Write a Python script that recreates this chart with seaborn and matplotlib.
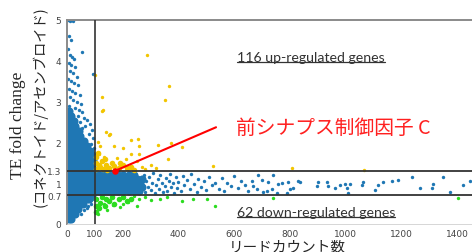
import numpy as np
import pandas as pd
import matplotlib
matplotlib.use("Agg")
import matplotlib.pyplot as plt
from matplotlib.lines import Line2D
import seaborn as sns

# dense blue core, read row by row (drawn with big markers so they merge)
core_x = [6, 14,
          6, 18, 28,
          5, 17, 30, 40,
          6, 18, 32, 46, 56,
          5, 17, 30, 44, 58, 70, 80,
          6, 18, 32, 46, 60, 74, 88,
          5, 20, 36, 52, 68, 84, 100, 116, 132, 148, 166, 184, 202, 222, 242, 260,
          8, 24, 40, 56, 72, 88, 104, 120, 138, 156, 174, 192, 212, 232, 252, 270,
          5, 20, 36, 52, 68, 84, 100, 116, 132, 148, 166, 184, 202, 222, 242, 262,
          8, 24, 40, 56, 72, 88, 104, 120, 138, 156, 174, 192, 212, 232, 252, 268,
          5, 20, 36, 52, 68, 84, 100, 116, 132, 148, 166, 184, 202, 222, 242,
          6, 20, 36, 52, 68, 84, 94,
          8, 24, 40, 56, 72, 88,
          5, 20, 36, 52, 68, 84, 94,
          8, 24, 40, 56, 72, 88,
          5, 20, 36, 52, 68, 82,
          8, 24, 40, 56, 70,
          5, 20, 36, 50, 62,
          8, 22, 36, 48,
          5, 18, 32, 42,
          8, 20, 30,
          5, 16, 24,
          6, 14,
          6]
core_y = [0.12, 0.12,
          0.24, 0.24, 0.24,
          0.36, 0.36, 0.36, 0.36,
          0.48, 0.48, 0.48, 0.48, 0.48,
          0.6, 0.6, 0.6, 0.6, 0.6, 0.6, 0.6,
          0.72, 0.72, 0.72, 0.72, 0.72, 0.72, 0.72,
          0.8, 0.8, 0.8, 0.8, 0.8, 0.8, 0.8, 0.8, 0.8, 0.8, 0.8, 0.8, 0.8, 0.8, 0.8, 0.8,
          0.9, 0.9, 0.9, 0.9, 0.9, 0.9, 0.9, 0.9, 0.9, 0.9, 0.9, 0.9, 0.9, 0.9, 0.9, 0.9,
          1.0, 1.0, 1.0, 1.0, 1.0, 1.0, 1.0, 1.0, 1.0, 1.0, 1.0, 1.0, 1.0, 1.0, 1.0, 1.0,
          1.1, 1.1, 1.1, 1.1, 1.1, 1.1, 1.1, 1.1, 1.1, 1.1, 1.1, 1.1, 1.1, 1.1, 1.1, 1.1,
          1.2, 1.2, 1.2, 1.2, 1.2, 1.2, 1.2, 1.2, 1.2, 1.2, 1.2, 1.2, 1.2, 1.2, 1.2,
          1.32, 1.32, 1.32, 1.32, 1.32, 1.32, 1.32,
          1.44, 1.44, 1.44, 1.44, 1.44, 1.44,
          1.56, 1.56, 1.56, 1.56, 1.56, 1.56, 1.56,
          1.68, 1.68, 1.68, 1.68, 1.68, 1.68,
          1.8, 1.8, 1.8, 1.8, 1.8, 1.8,
          1.92, 1.92, 1.92, 1.92, 1.92,
          2.04, 2.04, 2.04, 2.04, 2.04,
          2.16, 2.16, 2.16, 2.16,
          2.28, 2.28, 2.28, 2.28,
          2.4, 2.4, 2.4,
          2.52, 2.52, 2.52,
          2.64, 2.64,
          2.76]

# sparse blue genes
blue_x = [3, 12, 20, 8, 15, 5, 10, 18, 25, 6, 14, 28, 9, 20, 35, 5, 15, 25, 40, 8,
          18, 30, 45, 12, 22, 35, 50, 6, 28, 42, 55, 18, 38, 60, 70, 48, 82, 65, 90, 78,
          55, 95, 85, 98, 94, 54,
          60, 75, 85, 90, 50, 70,
          275, 280, 285, 290, 295, 300, 305, 310, 315, 320, 325, 330, 335, 340, 345, 350,
          355, 360, 365, 370, 375, 380, 385, 390, 395, 400, 410, 415, 420, 430, 440, 445,
          455, 465, 470, 480, 490, 500, 510, 520, 530, 545, 555, 565, 575, 590, 600, 615,
          625, 640, 650,
          663, 669, 681, 687, 699, 705, 717, 723, 735, 741, 753, 759, 771, 789, 795, 801,
          813, 830, 836, 896, 902, 932, 938, 962, 980, 998, 1004, 1010, 1016, 1058, 1064,
          1106, 1118, 1136, 1166, 1190, 1237, 1267, 1309, 1315, 1351, 1375, 1423, 1447]
blue_y = [5.0, 4.98, 4.97, 4.6, 4.5, 4.3, 4.15, 4.1, 4.05, 3.95, 3.9, 3.85, 3.75, 3.7, 3.6, 3.55, 3.5, 3.45, 3.4, 3.3,
          3.25, 3.2, 3.15, 3.1, 3.05, 3.0, 2.95, 2.9, 2.85, 2.8, 2.75, 2.7, 2.65, 2.6, 2.55, 2.5, 2.45, 2.4, 2.3, 2.2,
          2.35, 2.1, 1.95, 1.85, 3.68, 4.22,
          0.35, 0.45, 0.5, 0.6, 0.25, 0.38,
          1.2, 0.78, 1.05, 0.9, 1.15, 0.82, 1.0, 1.25, 0.75, 0.95, 1.1, 0.85, 1.2, 1.0, 0.78, 0.92,
          1.12, 0.8, 1.05, 1.22, 0.9, 1.0, 0.76, 1.15, 0.88, 1.02, 0.8, 1.18, 0.95, 1.08, 0.85, 1.22,
          0.98, 0.78, 1.1, 0.9, 1.05, 0.82, 1.15, 0.95, 1.0, 0.86, 1.12, 0.8, 1.0, 0.92, 1.18, 0.88,
          1.05, 0.95, 0.8,
          1.06, 0.93, 0.85, 1.2, 1.08, 0.79, 0.81, 1.02, 0.85, 1.2, 0.75, 0.98, 1.0, 0.77, 1.02, 0.85,
          0.87, 1.06, 1.02, 0.93, 1.02, 1.02, 0.93, 0.87, 0.95, 0.98, 0.87, 0.77, 0.98, 0.95, 1.02,
          0.82, 0.95, 1.02, 1.06, 1.08, 1.14, 0.89, 0.89, 0.98, 1.14, 0.79, 0.95, 1.06]

# up-regulated (yellow)
up_core_x = [105, 105, 105, 110, 120, 125, 130, 140, 150, 160, 170, 185, 200, 215, 230, 115, 135, 145, 190, 240]
up_core_y = [1.35, 1.5, 1.65, 1.75, 1.4, 1.55, 1.35, 1.45, 1.38, 1.5, 1.42, 1.36, 1.45, 1.38, 1.4, 1.45, 1.6, 1.33, 1.5, 1.33]
up_x = [100, 125, 130, 127, 140, 152, 155, 229, 254, 257, 260, 229, 326, 375, 412, 115, 134, 286, 367, 353,
        363, 525, 806, 1066, 270, 300, 250, 210, 180, 280, 320, 200, 170, 110, 120]
up_y = [3.66, 3.1, 2.8, 2.76, 2.25, 2.17, 2.2, 2.05, 2.09, 1.91, 1.71, 1.72, 1.93, 1.98, 1.89, 1.72, 1.63, 4.15, 3.39, 3.05,
        1.59, 1.42, 1.37, 1.32, 1.4, 1.45, 1.55, 1.6, 1.62, 1.35, 1.38, 1.85, 1.9, 2.0, 1.9]

# down-regulated (green)
down_core_x = [105, 105, 105, 115, 120, 125, 135, 140, 150, 160, 170, 185, 200, 215, 230]
down_core_y = [0.3, 0.45, 0.6, 0.38, 0.52, 0.65, 0.45, 0.6, 0.55, 0.65, 0.5, 0.6, 0.66, 0.55, 0.62]
down_x = [334, 412, 453, 501, 531, 250, 219, 166, 133, 738, 1404, 110, 260, 280, 300, 190, 240, 360, 145, 200]
down_y = [0.61, 0.55, 0.6, 0.61, 0.43, 0.45, 0.54, 0.46, 0.48, 0.63, 0.63, 0.25, 0.6, 0.66, 0.58, 0.42, 0.68, 0.65, 0.35, 0.5]

gene_x = [172]
gene_y = [1.3]

x_ticks = [0, 100, 200, 400, 600, 800, 1000, 1200, 1400]
y_ticks = [0, 0.7, 1, 1.3, 2, 3, 4, 5]
y_ticklabels = ["0", "0.7", "1", "1.3", "2", "3", "4", "5"]

sns.set_style("white")
plt.rcParams["font.family"] = ["DejaVu Sans", "Noto Sans CJK JP"]

blue = "#1f77b4"
yellow = "#f2c500"
green = "#2bdc1f"

fig = plt.figure(figsize=(4.72, 2.53), dpi=100)
ax = fig.add_axes([0.142, 0.111, 0.858, 0.806])

sns.scatterplot(x=core_x, y=core_y, color=blue, s=34, linewidth=0, ax=ax, zorder=2)
sns.scatterplot(x=blue_x, y=blue_y, color=blue, s=6, linewidth=0, ax=ax, zorder=2)
sns.scatterplot(x=up_core_x, y=up_core_y, color=yellow, s=16, linewidth=0, ax=ax, zorder=3)
sns.scatterplot(x=up_x, y=up_y, color=yellow, s=6, linewidth=0, ax=ax, zorder=3)
sns.scatterplot(x=down_core_x, y=down_core_y, color=green, s=16, linewidth=0, ax=ax, zorder=3)
sns.scatterplot(x=down_x, y=down_y, color=green, s=6, linewidth=0, ax=ax, zorder=3)

# threshold lines
ax.axhline(1.3, color="#333333", lw=1.3, zorder=4)
ax.axhline(0.7, color="#333333", lw=1.3, zorder=4)
ax.axvline(100, color="#333333", lw=1.2, zorder=4)

# highlighted gene + pointer
sns.scatterplot(x=gene_x, y=gene_y, color="red", s=22, linewidth=0, ax=ax, zorder=6)
ax.plot([gene_x[0], 535], [gene_y[0], 2.37], color="red", lw=1.5, zorder=6)
ax.text(607, 2.37, "前シナプス制御因子 C", color="#ff2020", fontsize=14.2,
        family=["Noto Sans CJK JP", "DejaVu Sans"], va="center", ha="left")

t_up = ax.text(610, 4.1, "116 up-regulated genes", color="#333333", fontsize=10.2,
               family="Lato", va="center", ha="left")
t_dn = ax.text(610, 0.29, "62 down-regulated genes", color="#333333", fontsize=10.2,
               family="Lato", va="center", ha="left")

ax.set_xlim(0, 1454)
ax.set_ylim(0, 5)
ax.set_xticks(x_ticks)
ax.set_yticks(y_ticks)
ax.set_yticklabels(y_ticklabels)
ax.tick_params(axis="both", labelsize=6.5, colors="#444444", length=2.5, width=0.6, pad=1.5)
ax.set_xlabel("")
ax.set_ylabel("")
for side in ["top", "left"]:
    ax.spines[side].set_color("#8a8a8a")
    ax.spines[side].set_linewidth(1.4)
ax.spines["right"].set_visible(False)
ax.spines["bottom"].set_color("#d0d0d0")
ax.spines["bottom"].set_linewidth(0.6)

fig.text(0.038, 0.506, "TE fold change", rotation=90, fontsize=12.5,
         family="Liberation Serif", ha="center", va="center")
fig.text(0.085, 0.58, "(コネクトイド/アセンブロイド)", rotation=90, fontsize=10.3,
         family=["Noto Sans CJK JP", "Liberation Serif"], ha="center", va="center")
fig.text(0.608, 0.022, "リードカウント数", fontsize=10.5,
         family=["Noto Sans CJK JP", "DejaVu Sans"], ha="center", va="center")

# underline the two count labels
fig.canvas.draw()
inv = fig.transFigure.inverted()
for t in [t_up, t_dn]:
    bb = t.get_window_extent()
    (x0, y0), (x1, y1) = inv.transform([[bb.x0, bb.y0], [bb.x1, bb.y1]])
    fig.add_artist(Line2D([x0, x1], [y0 + 0.004, y0 + 0.004], color="#333333", lw=0.9))

fig.savefig("out.png", dpi=100)
